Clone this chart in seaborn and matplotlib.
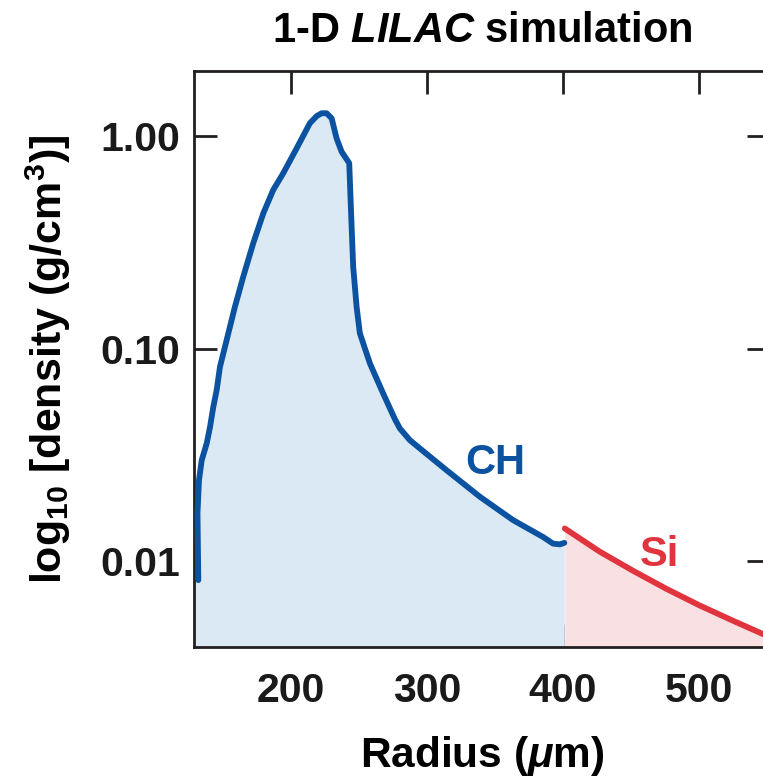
import numpy as np
import pandas as pd
import matplotlib
matplotlib.use("Agg")
import matplotlib.pyplot as plt
import seaborn as sns

# ---- data ----
ch_radius = [132.3, 131.7, 132.8, 134.8, 138.5, 140.9, 143.3, 145.8, 148.2, 153.1,
             159.2, 165.3, 172.6, 180.0, 187.3, 194.6, 204.5, 214.2, 219.2, 222.8,
             226.5, 230.2, 233.8, 237.5, 243.1, 244.1, 246.0, 248.5, 250.9, 258.3,
             268.0, 276.6, 280.3, 287.6, 295.0, 314.5, 339.0, 363.4, 385.4, 392.7,
             397.7, 401.0]
ch_density = [0.00815, 0.01683, 0.02404, 0.02985, 0.03589, 0.04276, 0.05309, 0.06383,
              0.08204, 0.1096, 0.1574, 0.2178, 0.3126, 0.4325, 0.5572, 0.6668, 0.8750,
              1.148, 1.24, 1.279, 1.279, 1.21, 0.975, 0.8433, 0.7447, 0.500, 0.2427,
              0.1574, 0.1180, 0.0851, 0.0615, 0.0466, 0.0421, 0.0371, 0.0339, 0.0268,
              0.0201, 0.0156, 0.0130, 0.0121, 0.0120, 0.0122]
si_radius = [401.3, 427.0, 451.4, 476.0, 500.4, 524.8, 546.6, 552.0]
si_density = [0.01426, 0.01109, 0.00902, 0.00741, 0.00619, 0.00525, 0.00455, 0.00440]

x_ticks = [200, 300, 400, 500]
y_ticks = [0.01, 0.1, 1.0]
y_tick_labels = ["0.01", "0.10", "1.00"]
x_limits = (129.5, 552.0)
y_limits = (0.00395, 2.02)

blue = "#0b52a0"
red = "#e0353e"
blue_fill = "#dbe9f5"
red_fill = "#f9e0e2"
dark = "#231f20"

sns.set_theme(style="ticks")
plt.rcParams["font.family"] = ["Liberation Sans", "DejaVu Sans"]
plt.rcParams["font.weight"] = "bold"
plt.rcParams["mathtext.fontset"] = "custom"
plt.rcParams["mathtext.rm"] = "Liberation Sans:bold"
plt.rcParams["mathtext.bf"] = "Liberation Sans:bold"
plt.rcParams["mathtext.it"] = "Liberation Sans:italic:bold"
plt.rcParams["mathtext.default"] = "rm"

ch = pd.DataFrame({"radius": ch_radius, "density": ch_density})
si = pd.DataFrame({"radius": si_radius, "density": si_density})

fig = plt.figure(figsize=(7.63, 7.78), dpi=100)
ax = fig.add_axes([0.2549, 0.1684, 0.7543, 0.7403])

ax.set_yscale("log")
floor = y_limits[0] * 0.5
ax.fill_between(np.r_[x_limits[0], ch["radius"]], np.r_[ch["density"].iloc[0], ch["density"]],
                floor, color=blue_fill, lw=0, zorder=1)
ax.fill_between(si["radius"], si["density"], floor, color=red_fill, lw=0, zorder=1)
sns.lineplot(data=ch, x="radius", y="density", sort=False, estimator=None,
             color=blue, lw=4.2, ax=ax, zorder=3)
sns.lineplot(data=si, x="radius", y="density", sort=False, estimator=None,
             color=red, lw=4.2, ax=ax, zorder=3)
for ln in ax.lines:
    ln.set_solid_joinstyle("round")
    ln.set_solid_capstyle("round")

ax.set_xlim(*x_limits)
ax.set_ylim(*y_limits)
ax.set_xticks(x_ticks)
ax.set_xticklabels([str(v) for v in x_ticks])
ax.set_yticks(y_ticks)
ax.set_yticklabels(y_tick_labels)
ax.minorticks_off()
ax.tick_params(axis="both", which="major", direction="in", length=16.5, width=2.0,
               color=dark, labelsize=29.5, labelcolor="#1a1a1a",
               top=True, right=True)
ax.tick_params(axis="y", pad=10)
ax.tick_params(axis="x", pad=18)
for s in ax.spines.values():
    s.set_linewidth(2.0)
    s.set_color(dark)
    s.set_visible(True)
for lab in ax.get_xticklabels() + ax.get_yticklabels():
    lab.set_fontweight("bold")

ax.set_xlabel(r"Radius ($\mathit{\mu}$m)", fontsize=30.5, fontweight="bold", labelpad=17, color="black")
ax.set_ylabel(r"log$_{10}$ [density (g/cm$^{3}$)]", fontsize=31, fontweight="bold", labelpad=20, color="black")
ax.set_title(r"1-D $\mathit{LILAC}$ simulation", fontsize=30, fontweight="bold", pad=21, color="black")

ax.text(350, 0.0289, "CH", color=blue, fontsize=30, fontweight="bold", ha="center", va="center")
ax.text(471, 0.0107, "Si", color=red, fontsize=30, fontweight="bold", ha="center", va="center")

fig.savefig("out.png", dpi=100)
